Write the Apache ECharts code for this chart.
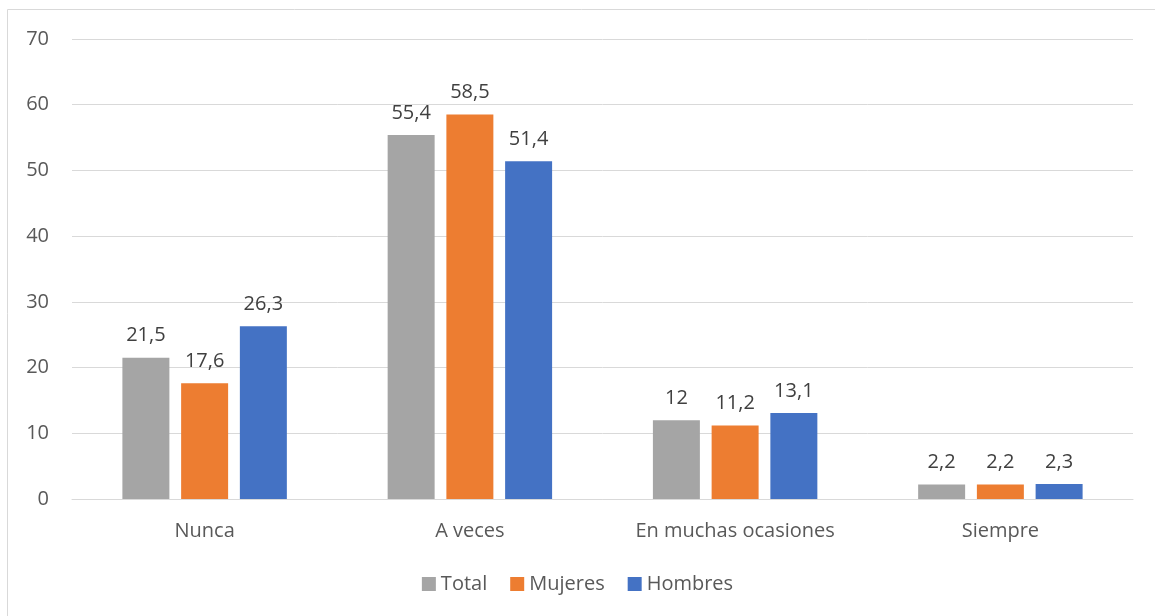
<!DOCTYPE html>
<html>
<head>
    <meta charset="utf-8"/>
    <title>Frecuencia</title>
    <script src="https://cdn.jsdelivr.net/npm/echarts@6/dist/echarts.min.js"></script>
    <style>
        html, body { margin: 0; padding: 0; background: #fff; }
        #chart { width: 1155px; height: 616px; }
    </style>
</head>
<body>
<div id="chart"></div>
<script>
    // datos
    var categorias = ['Nunca', 'A veces', 'En muchas ocasiones', 'Siempre'];
    var total = [21.5, 55.4, 12, 2.2];
    var mujeres = [17.6, 58.5, 11.2, 2.2];
    var hombres = [26.3, 51.4, 13.1, 2.3];
    var nombres = ['Total', 'Mujeres', 'Hombres'];

    var fuente = '"Open Sans", "Noto Sans", sans-serif';

    function etiqueta(p) {
        return String(p.value).replace('.', ',');
    }

    function serie(nombre, datos) {
        return {
            name: nombre,
            type: 'bar',
            data: datos,
            barGap: '25%',
            barCategoryGap: '38%',
            label: {
                show: true,
                position: 'top',
                distance: 12,
                formatter: etiqueta,
                color: '#404040',
                fontSize: 20,
                fontFamily: fuente
            }
        };
    }

    var myChart = echarts.init(document.getElementById('chart'));
    myChart.setOption({
        color: ['#A5A5A5', '#ED7D31', '#4472C4'],
        animation: false,
        graphic: [{
            type: 'rect',
            shape: {x: 7.5, y: 9.5, width: 1300, height: 800},
            style: {fill: 'none', stroke: '#D9D9D9', lineWidth: 1}
        }],
        grid: {left: 72, right: 22, top: 39, bottom: 117},
        legend: {
            data: nombres,
            bottom: 17,
            left: 'center',
            itemWidth: 14,
            itemHeight: 14,
            itemGap: 23,
            icon: 'rect',
            textStyle: {color: '#595959', fontSize: 20, fontFamily: fuente}
        },
        xAxis: {
            type: 'category',
            data: categorias,
            axisLine: {lineStyle: {color: '#D9D9D9', width: 1}},
            axisTick: {show: false},
            axisLabel: {color: '#595959', fontSize: 20, fontFamily: fuente, margin: 22}
        },
        yAxis: {
            type: 'value',
            min: 0,
            max: 70,
            interval: 10,
            axisLine: {show: false},
            axisTick: {show: false},
            splitLine: {lineStyle: {color: '#D9D9D9', width: 1}},
            axisLabel: {color: '#595959', fontSize: 20, fontFamily: fuente, margin: 23}
        },
        series: [
            serie(nombres[0], total),
            serie(nombres[1], mujeres),
            serie(nombres[2], hombres)
        ]
    });

    window.onresize = function () {
        myChart.resize();
    };
</script>
</body>
</html>
